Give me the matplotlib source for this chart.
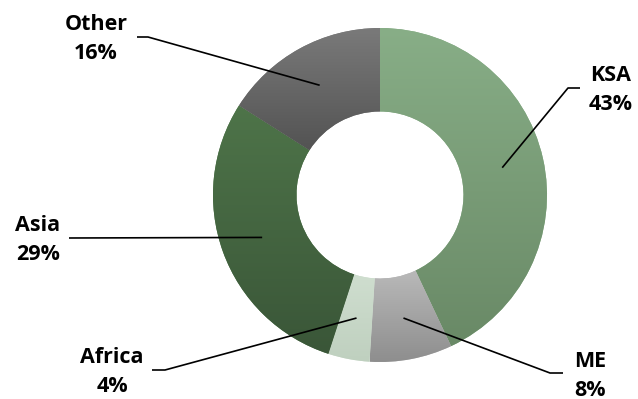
import numpy as np
import matplotlib
matplotlib.use("Agg")
import matplotlib.pyplot as plt
from matplotlib.colors import LinearSegmentedColormap

# data, clockwise from 12 o'clock
regions = ["KSA", "ME", "Africa", "Asia", "Other"]
shares = [43, 8, 4, 29, 16]

# vertical gradient per slice (top, bottom)
top_colors = ["#88ae87", "#b9b9b9", "#cfdecf", "#4e7449", "#7a7a7a"]
bottom_colors = ["#698966", "#8e8e8e", "#bfd0bf", "#3a5638", "#535353"]

# label text centres and leader elbow points, in pixels from top-left
label_xy = [(611, 90), (590, 376), (112, 372), (38, 240), (96, 39)]
elbow_xy = [[(580, 88), (568, 88)],
            [(563, 373), (550, 373)],
            [(152, 370), (165, 370)],
            [(69, 238)],
            [(137, 37), (148, 37)]]

W, H = 638, 399
CX, CY, R = 380, 204, 167
RING = 0.5

fig = plt.figure(figsize=(W / 100, H / 100), dpi=100)
ax = fig.add_axes([0, 0, 1, 1])

wedges, _ = ax.pie(shares, startangle=90, counterclock=False, radius=R,
                   center=(CX, CY), wedgeprops=dict(width=R * RING, linewidth=0),
                   frame=True)
ax.set_xlim(0, W)
ax.set_ylim(0, H)
ax.set_aspect("equal")
ax.axis("off")

grad = np.linspace(0, 1, 256).reshape(-1, 1)
for w, c0, c1 in zip(wedges, top_colors, bottom_colors):
    bb = w.get_path().get_extents()
    cmap = LinearSegmentedColormap.from_list("g", [c1, c0])
    w.set_facecolor(c0)
    im = ax.imshow(grad, cmap=cmap, origin="lower", aspect="auto",
                   extent=(bb.x0, bb.x1, bb.y0, bb.y1), zorder=2)
    im.set_clip_path(w)

# leader lines: from ring middle at slice mid-angle to the label
total = sum(shares)
start = 90.0
for name, v, (lx, ly), elbows in zip(regions, shares, label_xy, elbow_xy):
    span = 360.0 * v / total
    mid = np.deg2rad(start - span / 2)
    start -= span
    rr = R * (1 - RING / 2)
    ax_pt = (CX + rr * np.cos(mid), CY + rr * np.sin(mid))
    pts = [(x, H - y) for x, y in elbows] + [ax_pt]
    xs, ys = zip(*pts)
    ax.plot(xs, ys, color="black", lw=1.2, zorder=4, solid_capstyle="butt")
    ax.text(lx, H - ly, f"{name}\n{v}%", ha="center", va="center",
            fontsize=15.5, fontweight="bold", family="Open Sans",
            linespacing=1.5, color="black", zorder=5)

fig.savefig("out.png", dpi=100, facecolor="white")
